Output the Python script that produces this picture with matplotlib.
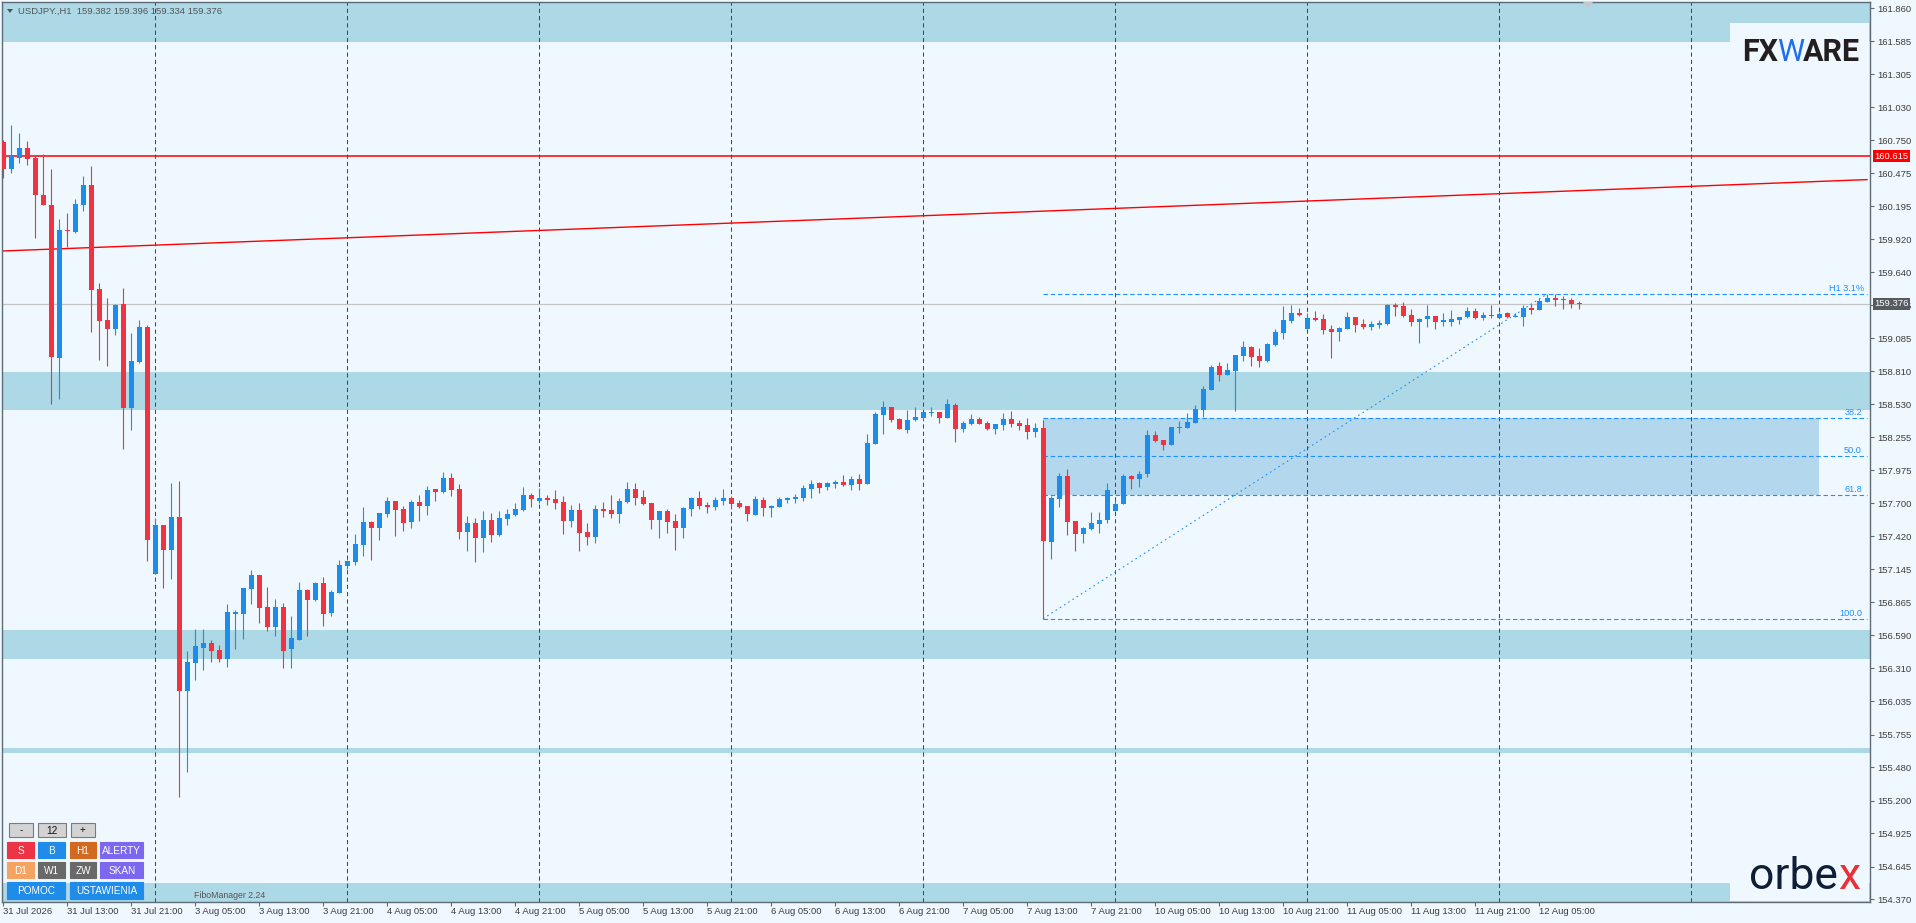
import numpy as np
import matplotlib
matplotlib.use("Agg")
import matplotlib.pyplot as plt
from matplotlib.patches import Rectangle, Polygon
from matplotlib.transforms import blended_transform_factory

plt.rcParams['font.family'] = ['Liberation Sans', 'DejaVu Sans']

# USDJPY H1 candles, 31 Jul 05:00 -> 12 Aug 10:00
opens = [160.735, 160.511, 160.600, 160.685, 160.600, 160.291, 160.206, 158.922, 159.998, 159.983,
         160.206, 160.376, 159.500, 159.242, 159.165, 159.377, 158.501, 158.887, 159.180, 157.108,
         157.517, 157.309, 157.587, 156.125, 156.360, 156.483, 156.526, 156.468, 156.391, 156.769,
         156.769, 156.981, 157.097, 156.831, 156.661, 156.831, 156.476, 156.553, 156.973, 156.889,
         157.031, 156.777, 156.948, 157.174, 157.205, 157.348, 157.542, 157.494, 157.612, 157.718,
         157.651, 157.542, 157.710, 157.676, 157.819, 157.794, 157.912, 157.819, 157.457, 157.533,
         157.407, 157.558, 157.432, 157.567, 157.600, 157.642, 157.769, 157.718, 157.743, 157.735,
         157.710, 157.550, 157.642, 157.457, 157.415, 157.651, 157.642, 157.609, 157.710, 157.819,
         157.752, 157.701, 157.558, 157.634, 157.550, 157.491, 157.651, 157.743, 157.684, 157.667,
         157.718, 157.743, 157.701, 157.676, 157.600, 157.726, 157.659, 157.667, 157.726, 157.735,
         157.743, 157.819, 157.869, 157.836, 157.861, 157.878, 157.852, 157.903, 157.861, 158.197,
         158.441, 158.508, 158.407, 158.315, 158.399, 158.416, 158.458, 158.466, 158.416, 158.525,
         158.323, 158.365, 158.407, 158.374, 158.323, 158.357, 158.408, 158.374, 158.357, 158.298,
         158.332, 157.373, 157.735, 157.928, 157.550, 157.441, 157.483, 157.525, 157.558, 157.634,
         157.693, 157.928, 157.903, 157.945, 158.273, 158.231, 158.189, 158.335, 158.332, 158.374,
         158.483, 158.651, 158.853, 158.777, 158.811, 158.937, 159.013, 158.937, 158.895, 159.030,
         159.131, 159.231, 159.299, 159.164, 159.257, 159.248, 159.164, 159.139, 159.164, 159.265,
         159.206, 159.181, 159.198, 159.206, 159.366, 159.357, 159.282, 159.223, 159.248, 159.273,
         159.223, 159.223, 159.240, 159.265, 159.315, 159.256, 159.282, 159.256, 159.299, 159.268,
         159.265, 159.341, 159.324, 159.391, 159.425, 159.416, 159.408, 159.382]
highs = [160.750, 160.878, 160.812, 160.743, 160.619, 160.638, 160.511, 160.091, 160.141, 160.253,
         160.449, 160.534, 159.550, 159.427, 159.377, 159.508, 159.130, 159.242, 159.199, 157.575,
         157.517, 157.872, 157.888, 156.460, 156.638, 156.645, 156.549, 156.510, 156.854, 156.804,
         156.989, 157.139, 157.097, 156.997, 156.896, 156.862, 156.753, 157.039, 156.981, 157.039,
         157.081, 156.970, 157.222, 157.222, 157.441, 157.668, 157.550, 157.617, 157.752, 157.718,
         157.676, 157.727, 157.769, 157.844, 157.819, 157.962, 157.954, 157.861, 157.592, 157.575,
         157.634, 157.617, 157.634, 157.651, 157.701, 157.836, 157.785, 157.827, 157.769, 157.811,
         157.760, 157.685, 157.701, 157.533, 157.685, 157.710, 157.769, 157.743, 157.878, 157.869,
         157.811, 157.701, 157.634, 157.651, 157.609, 157.667, 157.751, 157.802, 157.709, 157.751,
         157.819, 157.760, 157.726, 157.676, 157.760, 157.751, 157.684, 157.751, 157.751, 157.777,
         157.852, 157.894, 157.878, 157.878, 157.894, 157.936, 157.928, 157.945, 158.281, 158.466,
         158.559, 158.508, 158.416, 158.483, 158.508, 158.466, 158.508, 158.466, 158.575, 158.542,
         158.390, 158.449, 158.424, 158.390, 158.365, 158.458, 158.475, 158.399, 158.416, 158.374,
         158.399, 157.760, 157.954, 157.987, 157.550, 157.500, 157.626, 157.626, 157.869, 157.727,
         157.945, 157.937, 157.970, 158.315, 158.307, 158.231, 158.340, 158.391, 158.458, 158.525,
         158.685, 158.861, 158.887, 158.878, 158.946, 159.063, 159.021, 159.004, 159.046, 159.164,
         159.357, 159.366, 159.341, 159.299, 159.315, 159.290, 159.198, 159.181, 159.307, 159.265,
         159.248, 159.231, 159.240, 159.374, 159.383, 159.391, 159.332, 159.257, 159.366, 159.273,
         159.299, 159.324, 159.265, 159.349, 159.341, 159.307, 159.366, 159.307, 159.307, 159.299,
         159.366, 159.374, 159.425, 159.458, 159.458, 159.441, 159.425, 159.396]
lows = [160.434, 160.473, 160.561, 160.542, 159.932, 160.203, 158.536, 158.578, 159.855, 159.975,
        160.156, 159.142, 158.906, 158.852, 159.115, 158.158, 158.316, 158.879, 157.216, 157.101,
        156.989, 157.066, 155.226, 155.442, 156.217, 156.298, 156.368, 156.368, 156.325, 156.476,
        156.561, 156.854, 156.696, 156.626, 156.584, 156.318, 156.310, 156.553, 156.584, 156.881,
        156.669, 156.754, 156.942, 157.149, 157.183, 157.256, 157.222, 157.390, 157.584, 157.424,
        157.466, 157.491, 157.550, 157.600, 157.718, 157.785, 157.760, 157.399, 157.298, 157.205,
        157.289, 157.373, 157.424, 157.516, 157.592, 157.634, 157.668, 157.701, 157.685, 157.651,
        157.441, 157.500, 157.298, 157.348, 157.365, 157.584, 157.575, 157.533, 157.701, 157.685,
        157.685, 157.483, 157.407, 157.449, 157.306, 157.407, 157.592, 157.651, 157.617, 157.642,
        157.684, 157.651, 157.659, 157.550, 157.600, 157.592, 157.583, 157.667, 157.701, 157.701,
        157.718, 157.743, 157.785, 157.810, 157.827, 157.844, 157.810, 157.810, 157.861, 158.197,
        158.281, 158.382, 158.323, 158.290, 158.390, 158.399, 158.432, 158.374, 158.416, 158.214,
        158.298, 158.357, 158.365, 158.315, 158.281, 158.315, 158.340, 158.315, 158.239, 158.256,
        156.729, 157.231, 157.668, 157.432, 157.298, 157.365, 157.474, 157.449, 157.533, 157.634,
        157.693, 157.819, 157.836, 157.920, 158.214, 158.147, 158.189, 158.290, 158.332, 158.374,
        158.424, 158.651, 158.727, 158.777, 158.475, 158.895, 158.853, 158.845, 158.887, 159.021,
        159.080, 159.215, 159.273, 159.164, 159.231, 159.122, 158.920, 159.063, 159.164, 159.139,
        159.164, 159.156, 159.172, 159.198, 159.273, 159.265, 159.189, 159.046, 159.181, 159.164,
        159.189, 159.189, 159.206, 159.256, 159.248, 159.240, 159.256, 159.256, 159.256, 159.265,
        159.189, 159.290, 159.324, 159.391, 159.357, 159.332, 159.341, 159.334]
closes = [160.511, 160.619, 160.685, 160.592, 160.287, 160.203, 158.929, 159.994, 159.990, 160.214,
          160.376, 159.493, 159.230, 159.165, 159.369, 158.501, 158.895, 159.180, 157.394, 157.517,
          157.309, 157.587, 156.125, 156.368, 156.495, 156.526, 156.460, 156.391, 156.781, 156.781,
          156.989, 157.097, 156.819, 156.661, 156.831, 156.460, 156.568, 156.973, 156.889, 157.031,
          156.769, 156.953, 157.180, 157.214, 157.357, 157.542, 157.494, 157.617, 157.718, 157.645,
          157.536, 157.710, 157.676, 157.811, 157.797, 157.912, 157.811, 157.457, 157.533, 157.407,
          157.558, 157.432, 157.575, 157.609, 157.651, 157.769, 157.735, 157.743, 157.727, 157.701,
          157.550, 157.642, 157.449, 157.415, 157.651, 157.634, 157.609, 157.718, 157.819, 157.743,
          157.693, 157.558, 157.634, 157.541, 157.491, 157.659, 157.743, 157.676, 157.667, 157.726,
          157.743, 157.693, 157.667, 157.609, 157.735, 157.659, 157.676, 157.735, 157.743, 157.751,
          157.827, 157.861, 157.827, 157.869, 157.878, 157.852, 157.903, 157.861, 158.205, 158.449,
          158.508, 158.399, 158.323, 158.399, 158.424, 158.466, 158.466, 158.416, 158.533, 158.323,
          158.374, 158.407, 158.365, 158.323, 158.365, 158.408, 158.365, 158.349, 158.298, 158.332,
          157.382, 157.743, 157.928, 157.542, 157.441, 157.491, 157.533, 157.558, 157.811, 157.693,
          157.928, 157.903, 157.945, 158.273, 158.223, 158.189, 158.340, 158.340, 158.382, 158.492,
          158.660, 158.845, 158.777, 158.819, 158.946, 159.013, 158.929, 158.895, 159.038, 159.139,
          159.240, 159.299, 159.282, 159.257, 159.240, 159.156, 159.139, 159.172, 159.265, 159.198,
          159.181, 159.206, 159.214, 159.366, 159.349, 159.273, 159.223, 159.248, 159.273, 159.223,
          159.240, 159.248, 159.265, 159.315, 159.256, 159.282, 159.276, 159.290, 159.265, 159.273,
          159.341, 159.324, 159.399, 159.425, 159.408, 159.411, 159.374, 159.376]

time_labels = ["31 Jul 2026", "31 Jul 13:00", "31 Jul 21:00", "3 Aug 05:00", "3 Aug 13:00",
               "3 Aug 21:00", "4 Aug 05:00", "4 Aug 13:00", "4 Aug 21:00", "5 Aug 05:00",
               "5 Aug 13:00", "5 Aug 21:00", "6 Aug 05:00", "6 Aug 13:00", "6 Aug 21:00",
               "7 Aug 05:00", "7 Aug 13:00", "7 Aug 21:00", "10 Aug 05:00", "10 Aug 13:00",
               "10 Aug 21:00", "11 Aug 05:00", "11 Aug 13:00", "11 Aug 21:00", "12 Aug 05:00"]
label_every = 8
day_starts = [19, 43, 67, 91, 115, 139, 163, 187, 211]

price_ticks = [161.860, 161.585, 161.305, 161.030, 160.750, 160.475, 160.195, 159.920, 159.640,
               159.365, 159.085, 158.810, 158.530, 158.255, 157.975, 157.700, 157.420, 157.145,
               156.865, 156.590, 156.310, 156.035, 155.755, 155.480, 155.200, 154.925, 154.645,
               154.370]

zones = [(161.579, 162.300), (158.479, 158.802), (156.392, 156.633),
         (155.602, 155.642), (154.000, 154.506)]
resistance = 160.615
trend_bars = [0, 233]
trend_prices = [159.82, 160.42]
fibo_start, fibo_top_bar = 130, 193
fibo_low, fibo_high = 156.729, 159.458
fibo_levels = [38.2, 50.0, 61.8, 100.0]
fibo_zone_levels = (38.2, 61.8)
fibo_zone_end = 227
fibo_line_end = 233.0
symbol = "USDJPY.,H1"

# colours
BG = '#F0F8FF'
ZONE = '#ADD8E6'
FIBZONE = '#B3D8EE'
BULL = '#1E8CEB'
BEAR = '#EF3340'
FIB = '#1E90FF'
AXIS = '#5F6B75'
TEXT = '#3C3C3C'

W, H = 1916, 923
fig = plt.figure(figsize=(W / 100, H / 100), dpi=100)
fig.patch.set_facecolor(BG)
ax = fig.add_axes([2 / W, 21 / H, 1868 / W, 900 / H])
ax.set_facecolor(BG)
ax.set_xlim(-0.125, 233.375)
ax.set_ylim(154.347, 161.913)

for lo, hi in zones:
    ax.axhspan(lo, hi, color=ZONE, lw=0, zorder=0.5)

# fibo retracement
rng = fibo_high - fibo_low
zlo = fibo_high - fibo_zone_levels[1] / 100 * rng
zhi = fibo_high - fibo_zone_levels[0] / 100 * rng
ax.add_patch(Rectangle((fibo_start, zlo), fibo_zone_end - fibo_start, zhi - zlo,
                       color=FIBZONE, lw=0, zorder=0.6))

for d in day_starts:
    ax.axvline(d, color='#3B4B5B', lw=0.75, dashes=(4, 3), zorder=1)

for lvl in fibo_levels:
    p = fibo_high - lvl / 100 * rng
    ax.hlines(p, fibo_start, fibo_line_end, color=FIB, lw=0.8, linestyles=(0, (4, 2.5)), zorder=2)
    ax.annotate(f"{lvl:.1f}", (fibo_line_end, p), xytext=(-5, 1), textcoords='offset pixels',
                ha='right', va='bottom', fontsize=6.6, color=FIB)
ax.hlines(fibo_high, fibo_start, fibo_line_end, color=FIB, lw=0.8, linestyles=(0, (4, 2.5)), zorder=2)
ax.annotate("H1 3.1%", (fibo_line_end, fibo_high), xytext=(-3, 1), textcoords='offset pixels',
            ha='right', va='bottom', fontsize=6.6, color=FIB)
ax.plot([fibo_start, fibo_top_bar], [fibo_low, fibo_high], color=FIB, lw=0.8,
        linestyle=(0, (1.5, 3)), zorder=2)

ax.axhline(resistance, color='#FF0000', lw=1.1, zorder=2)
ax.plot(trend_bars, trend_prices, color='#FF0000', lw=1.0, zorder=2)
ax.axhline(closes[-1], color='#C4C4C4', lw=0.9, zorder=1.5)

# candles
o = np.array(opens)
h = np.array(highs)
l = np.array(lows)
c = np.array(closes)
idx = np.arange(len(o))
cols = np.where(c > o, BULL, BEAR)
ax.vlines(idx, l, h, colors=cols, lw=0.8, zorder=3)
ax.bar(idx, np.maximum(np.abs(c - o), 0.009), bottom=np.minimum(o, c), width=0.625,
       color=cols, lw=0, zorder=4)

# axes
for s in ax.spines.values():
    s.set_color(AXIS)
    s.set_linewidth(1.0)
ax.yaxis.tick_right()
ax.set_yticks(price_ticks)
ax.set_yticklabels([f"{v:.3f}" for v in price_ticks])
ax.tick_params(axis='y', direction='out', length=2.9, width=0.8, pad=2.0,
               labelsize=6.8, colors=AXIS, labelcolor=TEXT)
ax.set_xticks(idx[::label_every][:len(time_labels)])
ax.set_xticklabels(time_labels, ha='left')
ax.tick_params(axis='x', direction='out', length=2.9, width=0.8, pad=0.8,
               labelsize=6.8, colors=AXIS, labelcolor=TEXT)

bt = blended_transform_factory(ax.transAxes, ax.transData)
ax.annotate(f"{resistance:.3f}", (1.0, resistance), xycoords=bt, xytext=(4, 0),
            textcoords='offset pixels', ha='left', va='center', fontsize=6.8, color='white',
            bbox=dict(boxstyle='square,pad=0.15', fc='#FF0000', ec='none'), annotation_clip=False)
ax.annotate(f"{closes[-1]:.3f}", (1.0, closes[-1]), xycoords=bt, xytext=(4, 0),
            textcoords='offset pixels', ha='left', va='center', fontsize=6.8, color='white',
            bbox=dict(boxstyle='square,pad=0.15', fc='#555B61', ec='none'), annotation_clip=False)

# overlay in pixel coordinates for the terminal widgets and logos
ov = fig.add_axes([0, 0, 1, 1], zorder=5)
ov.set_xlim(0, W)
ov.set_ylim(H, 0)
ov.axis('off')
ov.patch.set_visible(False)

ov.add_patch(Polygon([[7, 9], [13, 9], [10, 13]], closed=True, color='#555555', lw=0))
ov.text(18, 11, f"{symbol}  {opens[-1]:.3f} {highs[-1]:.3f} {lows[-1]:.3f} {closes[-1]:.3f}",
        fontsize=6.8, color='#555555', va='center', ha='left')
ov.add_patch(Polygon([[1583, 2], [1593, 2], [1588, 8]], closed=True, color='#C8C8C8', lw=0))

# logo boxes
ov.add_patch(Rectangle((1730, 23), 139, 60, color=BG, lw=0))
ov.add_patch(Rectangle((1730, 830), 139, 71, color=BG, lw=0))

renderer = fig.canvas.get_renderer()


def word(parts, right, base, size, kerning=0):
    # place coloured pieces of a logo side by side, right-aligned at `right`
    arts = [ov.text(0, base, t, fontsize=size, color=col, fontweight=wt, family='Roboto',
                    va='baseline', ha='left') for t, col, wt in parts]
    widths = [a.get_window_extent(renderer).width for a in arts]
    x = right - sum(widths) - kerning * (len(parts) - 1)
    for a, w in zip(arts, widths):
        a.set_x(x)
        x += w + kerning


word([("FX", '#231F20', 'bold'), ("W", '#1E6FE8', 'normal'), ("ARE", '#231F20', 'bold')],
     1860, 61, 22, kerning=-1)
word([("orbe", '#0F1E36', 'normal'), ("x", '#E8303A', 'normal')], 1860, 889, 32)

# control buttons
buttons = [
    (9, 32.6, 822.7, 837.3, "-", '#D3D3D3', '#111111'),
    (38.4, 65.6, 822.7, 837.3, "12", '#D3D3D3', '#111111'),
    (71.4, 94.6, 822.7, 837.3, "+", '#D3D3D3', '#111111'),
    (7.1, 33.9, 842.3, 857.7, "S", '#EE3344', 'white'),
    (38.4, 65.2, 842.3, 857.7, "B", '#1E8CE8', 'white'),
    (69.6, 96.4, 842.3, 857.7, "H1", '#D2691E', 'white'),
    (100.4, 143.3, 842.3, 857.7, "ALERTY", '#7B68EE', 'white'),
    (7.1, 33.9, 862.3, 877.7, "D1", '#F4A460', 'white'),
    (38.4, 65.2, 862.3, 877.7, "W1", '#696969', 'white'),
    (69.6, 96.4, 862.3, 877.7, "ZW", '#696969', 'white'),
    (100.4, 143.3, 862.3, 877.7, "SKAN", '#7B68EE', 'white'),
    (7.1, 65.2, 882.3, 899.0, "POMOC", '#1E8CE8', 'white'),
    (69.6, 143.3, 882.3, 899.0, "USTAWIENIA", '#1E8CE8', 'white'),
]
for x0, x1, y0, y1, lab, fc, tc in buttons:
    ec = '#7A7A7A' if fc == '#D3D3D3' else fc
    ov.add_patch(Rectangle((x0, y0), x1 - x0, y1 - y0, fc=fc, ec=ec, lw=0.8))
    ov.text((x0 + x1) / 2, (y0 + y1) / 2 + 0.5, lab, fontsize=7.2, color=tc, ha='center', va='center')

ov.text(194, 895, "FiboManager 2.24", fontsize=6.3, color='#555555', ha='left', va='center')

fig.savefig("out.png", dpi=100, facecolor=BG)
